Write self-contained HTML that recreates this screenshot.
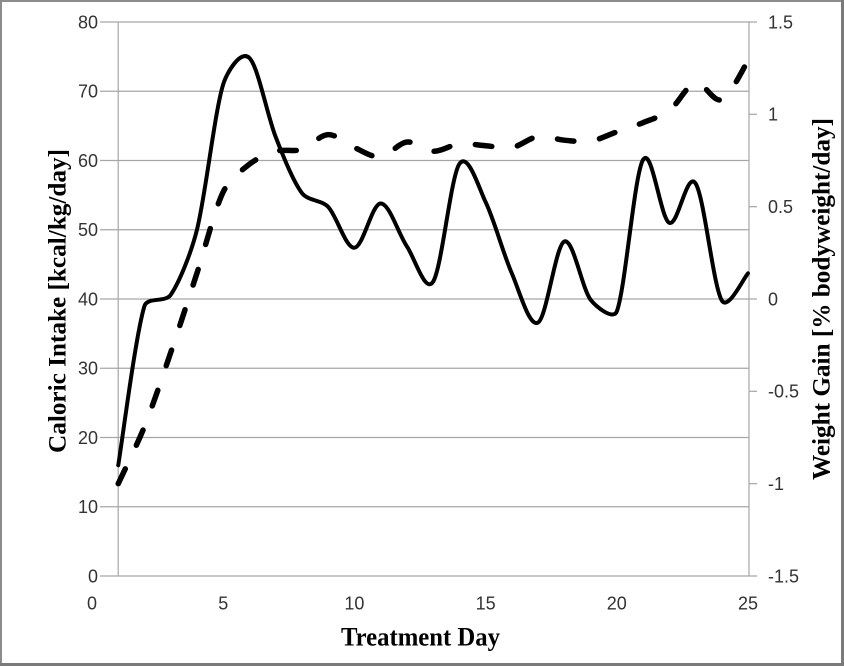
<!DOCTYPE html>
<html>
<head>
<meta charset="utf-8">
<style>
  html, body { margin:0; padding:0; background:#fff; }
  body { width:844px; height:666px; overflow:hidden; }
  svg { display:block; }
  .tl { font-family:"Liberation Sans", sans-serif; font-size:18px; fill:#333; }
  .tt { font-family:"Liberation Serif", serif; font-weight:bold; fill:#000; }
</style>
</head>
<body>
<svg id="c" width="844" height="666" viewBox="0 0 844 666" xmlns="http://www.w3.org/2000/svg">
  <rect x="0" y="0" width="844" height="666" fill="#fff"/>
  <!-- border -->
  <rect x="1" y="1" width="841" height="663" fill="none" stroke="#8c8c8c" stroke-width="2"/>
  <rect x="841" y="0" width="3" height="666" fill="#7a7a7a"/>
  <rect x="0" y="663" width="844" height="3" fill="#7a7a7a"/>

  <!-- gridlines -->
  <g stroke="#a6a6a6" stroke-width="1.2" fill="none">
    <line x1="100" y1="22" x2="757" y2="22"/>
    <line x1="100" y1="91.25" x2="749" y2="91.25"/>
    <line x1="100" y1="160.5" x2="749" y2="160.5"/>
    <line x1="100" y1="229.75" x2="749" y2="229.75"/>
    <line x1="100" y1="299" x2="757" y2="299"/>
    <line x1="100" y1="368.25" x2="749" y2="368.25"/>
    <line x1="100" y1="437.5" x2="749" y2="437.5"/>
    <line x1="100" y1="506.75" x2="749" y2="506.75"/>
    <line x1="100" y1="576" x2="757" y2="576"/>
    <!-- axes -->
    <line x1="118.2" y1="22" x2="118.2" y2="576"/>
    <line x1="749" y1="22" x2="749" y2="576"/>
    <!-- right ticks -->
    <line x1="749" y1="114.3" x2="757" y2="114.3"/>
    <line x1="749" y1="206.7" x2="757" y2="206.7"/>
    <line x1="749" y1="391.3" x2="757" y2="391.3"/>
    <line x1="749" y1="483.7" x2="757" y2="483.7"/>
  </g>

  <!-- left tick labels -->
  <g class="tl" text-anchor="end">
    <text x="98" y="28.4">80</text>
    <text x="98" y="97.6">70</text>
    <text x="98" y="166.9">60</text>
    <text x="98" y="236.1">50</text>
    <text x="98" y="305.4">40</text>
    <text x="98" y="374.6">30</text>
    <text x="98" y="443.9">20</text>
    <text x="98" y="513.1">10</text>
    <text x="98" y="582.4">0</text>
  </g>
  <!-- right tick labels -->
  <g class="tl" text-anchor="start">
    <text x="768" y="28.4">1.5</text>
    <text x="768" y="120.7">1</text>
    <text x="768" y="213.1">0.5</text>
    <text x="768" y="305.4">0</text>
    <text x="768" y="397.7">-0.5</text>
    <text x="768" y="490.1">-1</text>
    <text x="768" y="582.4">-1.5</text>
  </g>
  <!-- x tick labels -->
  <g class="tl" text-anchor="middle">
    <text x="92" y="609.5">0</text>
    <text x="223.2" y="609.5">5</text>
    <text x="354.4" y="609.5">10</text>
    <text x="485.6" y="609.5">15</text>
    <text x="616.8" y="609.5">20</text>
    <text x="748" y="609.5">25</text>
  </g>

  <!-- axis titles -->
  <text class="tt" font-size="26" x="420.5" y="645.5" text-anchor="middle" textLength="159" lengthAdjust="spacingAndGlyphs">Treatment Day</text>
  <text class="tt" font-size="25" transform="translate(65.5,301) rotate(-90)" text-anchor="middle" textLength="304" lengthAdjust="spacingAndGlyphs">Caloric Intake [kcal/kg/day]</text>
  <text class="tt" font-size="25" transform="translate(829.5,299) rotate(-90)" text-anchor="middle" textLength="362" lengthAdjust="spacingAndGlyphs">Weight Gain [%  bodyweight/day]</text>

  <path id="solid" d="" fill="none" stroke="#000" stroke-width="4" stroke-linejoin="round" stroke-linecap="round"/>
  <path id="dash" d="" fill="none" stroke="#000" stroke-width="5.5" stroke-linecap="round" stroke-dasharray="16.5 26"/>
</svg>
<script>
(function(){
  var kcal=[16,39,40.6,50,71,74.8,63.4,55.3,53.3,47.4,53.8,47.6,42.5,59.5,54,43.7,36.6,48.3,39.9,38.2,60.1,51,56.7,39.8,43.7];
  var wg=[-1.0,-0.69,-0.29,0.14,0.58,0.73,0.80,0.81,0.89,0.82,0.77,0.85,0.80,0.84,0.83,0.82,0.88,0.86,0.855,0.905,0.955,1.02,1.17,1.08,1.29];
  function X(d){return 92+26.24*d;}
  function YL(v){return 576-6.925*v;}
  function YR(v){return 299-184.667*v;}
  var K=1/3;
  function len(x,y){return Math.sqrt(x*x+y*y);}
  function path(p){
    var n=p.length, h=[];
    for(var i=0;i<n;i++){
      var a=p[i>0?i-1:0], b=p[i<n-1?i+1:n-1];
      h.push([(b[0]-a[0])/6,(b[1]-a[1])/6]);
    }
    var s="M"+p[0][0].toFixed(2)+","+p[0][1].toFixed(2);
    for(var i=0;i<n-1;i++){
      var p1=p[i],p2=p[i+1];
      var L=len(p2[0]-p1[0],p2[1]-p1[1]);
      var h1=h[i], h2=h[i+1];
      var l1=len(h1[0],h1[1]), l2=len(h2[0],h2[1]);
      var s1=(l1>K*L)?K*L/l1:1, s2=(l2>K*L)?K*L/l2:1;
      var c1x=p1[0]+h1[0]*s1, c1y=p1[1]+h1[1]*s1;
      var c2x=p2[0]-h2[0]*s2, c2y=p2[1]-h2[1]*s2;
      s+=" C"+c1x.toFixed(2)+","+c1y.toFixed(2)+" "+c2x.toFixed(2)+","+c2y.toFixed(2)+" "+p2[0].toFixed(2)+","+p2[1].toFixed(2);
    }
    return s;
  }
  var a=[],b=[];
  for(var i=0;i<25;i++){a.push([X(i+1),YL(kcal[i])]);b.push([X(i+1),YR(wg[i])]);}
  document.getElementById("solid").setAttribute("d",path(a));
  document.getElementById("dash").setAttribute("d",path(b));
})();
</script>
</body>
</html>
